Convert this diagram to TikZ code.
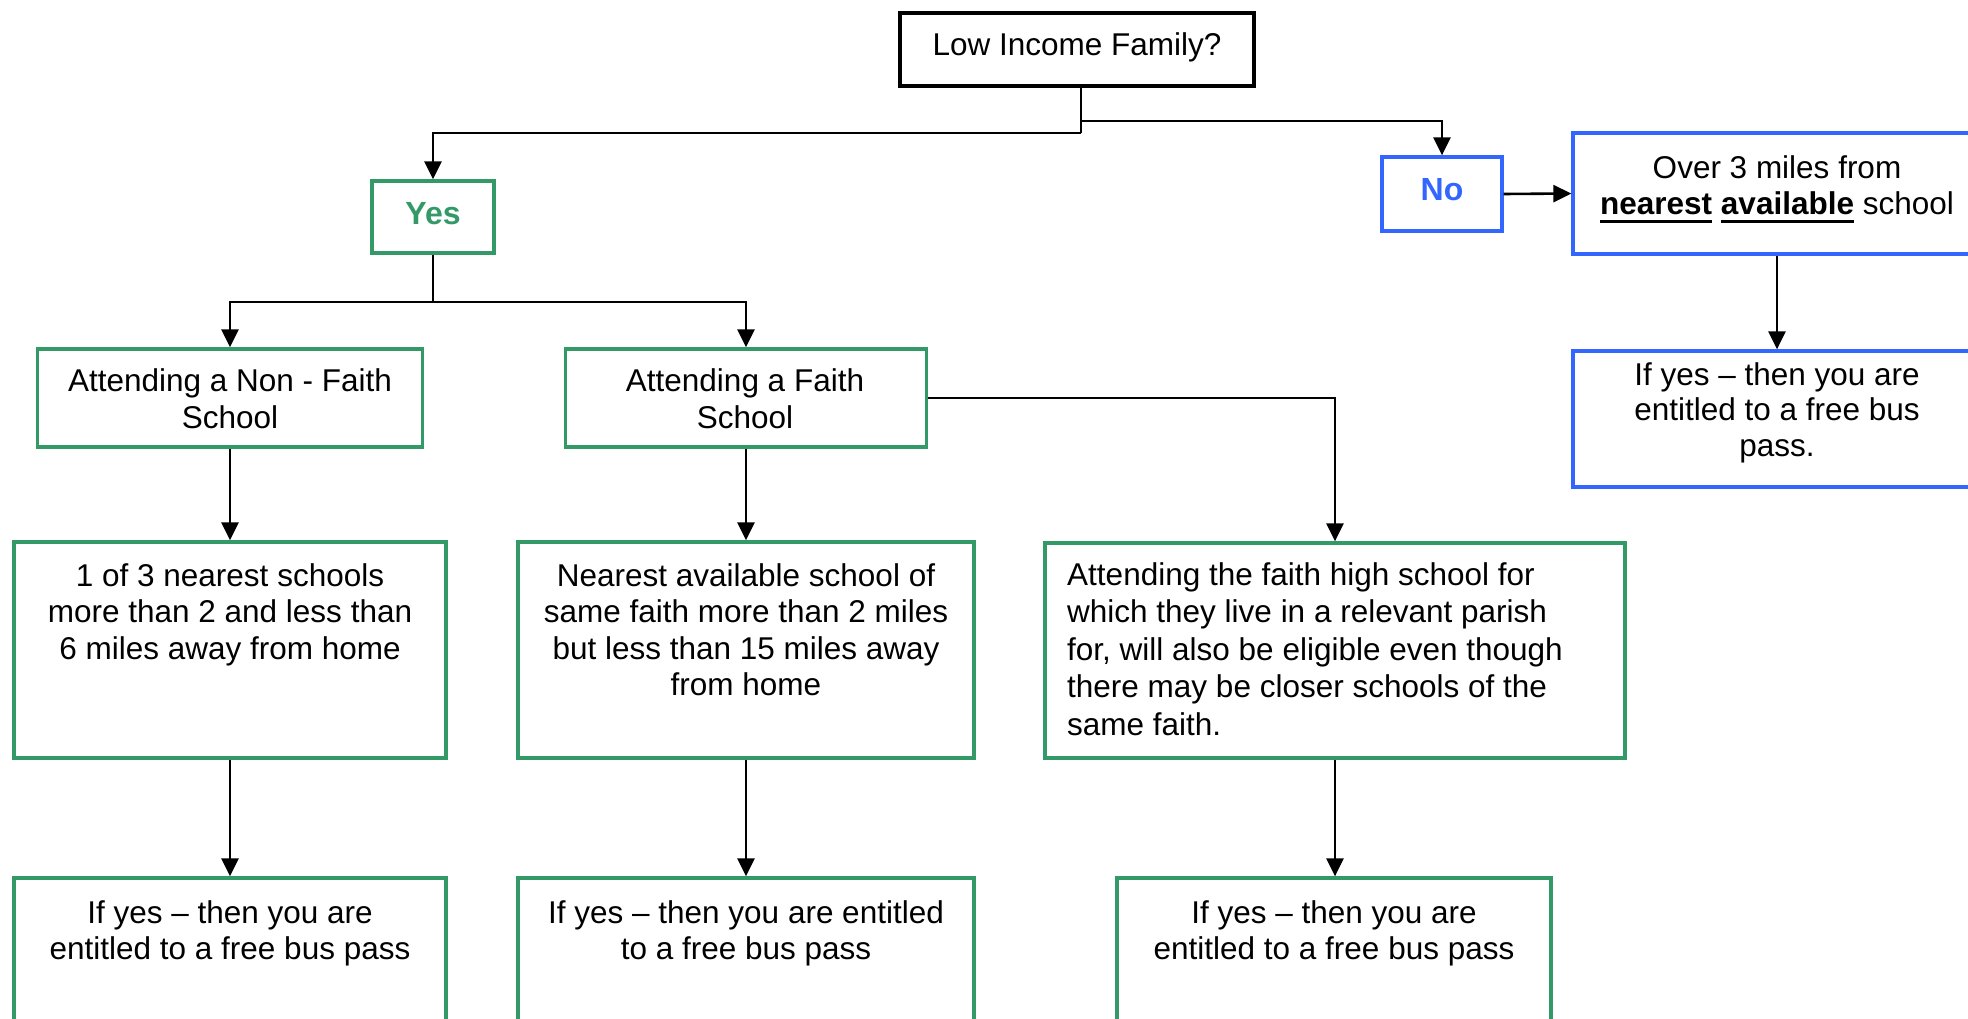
\documentclass[tikz,border=0pt]{standalone}
\usepackage{fontspec}
\setmainfont{Liberation Sans}
\usetikzlibrary{arrows.meta}
\definecolor{sgreen}{HTML}{339966}
\definecolor{rblue}{HTML}{3366FF}
\newsavebox\myulbox
\newcommand\myul[1]{\sbox\myulbox{#1}\rlap{\rule[-8.5pt]{\wd\myulbox}{2.8pt}}\usebox\myulbox}
\begin{document}
\begin{tikzpicture}[x=1pt,y=-1pt,
  box/.style={draw, rectangle, inner sep=0pt, line width=3.3pt},
  gbox/.style={box, draw=sgreen},
  bbox/.style={box, draw=rblue},
  txt/.style={inner sep=0pt, align=center, font=\fontsize{31.5}{36.5}\selectfont},
  boldtxt/.style={inner sep=0pt, font=\fontsize{32}{36.5}\selectfont\bfseries},
  conn/.style={line width=2.6pt, draw=black},
  arr/.style={conn, -{Triangle[length=18pt,width=17pt]}}]

\useasboundingbox (0,0) rectangle (1968,1019);
\clip (0,0) rectangle (1968,1019);
\fill[white] (0,0) rectangle (1968,1019);

% boxes
\node[box, line width=4pt, minimum width=354pt, minimum height=73pt] (top) at (1077,49.5) {};
\node[gbox, minimum width=122pt, minimum height=72pt] (yes) at (433,217) {};
\node[bbox, minimum width=120pt, minimum height=74pt] (no) at (1442,194) {};
\node[bbox, minimum width=408pt, minimum height=121pt] (over) at (1777,193.5) {};
\node[bbox, minimum width=408pt, minimum height=136pt] (ry) at (1777,419) {};
\node[gbox, minimum width=385pt, minimum height=98pt] (nf) at (230,398) {};
\node[gbox, minimum width=361pt, minimum height=98pt] (fa) at (746,398) {};
\node[gbox, minimum width=432pt, minimum height=216pt] (a3) at (230,650) {};
\node[gbox, minimum width=456pt, minimum height=216pt] (b3) at (746,650) {};
\node[gbox, minimum width=580pt, minimum height=215pt] (c3) at (1335,650.5) {};
\node[gbox, minimum width=432pt, minimum height=182pt] (a4) at (230,969) {};
\node[gbox, minimum width=456pt, minimum height=182pt] (b4) at (746,969) {};
\node[gbox, minimum width=434pt, minimum height=182pt] (c4) at (1334,969) {};

% texts
\node[txt, anchor=north] (ttop) at (1077,32) {Low Income Family?};
\node[boldtxt, text=sgreen] (tyes) at (433,214) {Yes};
\node[boldtxt, text=rblue] (tno) at (1442,190) {No};
\node[txt, anchor=north] (tover) at (1777,155) {Over 3 miles from\\\myul{\textbf{nearest}} \myul{\textbf{available}} school};
\node[txt, anchor=north, font=\fontsize{31.5}{35.5}\selectfont] (try) at (1777,362) {If yes – then you are\\entitled to a free bus\\pass.};
\node[txt, anchor=north] (tnf) at (230,368.5) {Attending a Non - Faith\\School};
\node[txt, anchor=north] (tfa) at (745,368.5) {Attending a Faith\\School};
\node[txt, anchor=north] (ta3) at (230,563) {1 of 3 nearest schools\\more than 2 and less than\\6 miles away from home};
\node[txt, anchor=north] (tb3) at (746,563) {Nearest available school of\\same faith more than 2 miles\\but less than 15 miles away\\from home};
\node[txt, anchor=north west, align=left, font=\fontsize{31.5}{37.5}\selectfont] (tc3) at (1067,562) {Attending the faith high school for\\which they live in a relevant parish\\for, will also be eligible even though\\there may be closer schools of the\\same faith.};
\node[txt, anchor=north] (ta4) at (230,900) {If yes – then you are\\entitled to a free bus pass};
\node[txt, anchor=north] (tb4) at (746,900) {If yes – then you are entitled\\to a free bus pass};
\node[txt, anchor=north] (tc4) at (1334,900) {If yes – then you are\\entitled to a free bus pass};

% connectors
\coordinate (j1) at (1081,133);
\coordinate (j2) at (1081,121);
\coordinate (j3) at (433,302);
\draw[conn] (top.south -| j1) -- (j1);
\draw[arr] (j1) -| (yes.north);
\draw[arr] (j2) -| (no.north);
\draw[arr] (no.east) -- (over.west);
\draw[arr] (over.south) -- (ry.north);
\draw[conn] (yes.south) -- (j3);
\draw[arr] (j3) -| (nf.north);
\draw[arr] (j3) -| (fa.north);
\draw[arr] (fa.east) -| (c3.north);
\draw[arr] (nf.south) -- (nf.south |- a3.north);
\draw[arr] (fa.south) -- (fa.south |- b3.north);
\draw[arr] (a3.south) -- (a3.south |- a4.north);
\draw[arr] (b3.south) -- (b3.south |- b4.north);
\draw[arr] (c3.south) -- (c3.south |- c4.north);
\end{tikzpicture}
\end{document}
